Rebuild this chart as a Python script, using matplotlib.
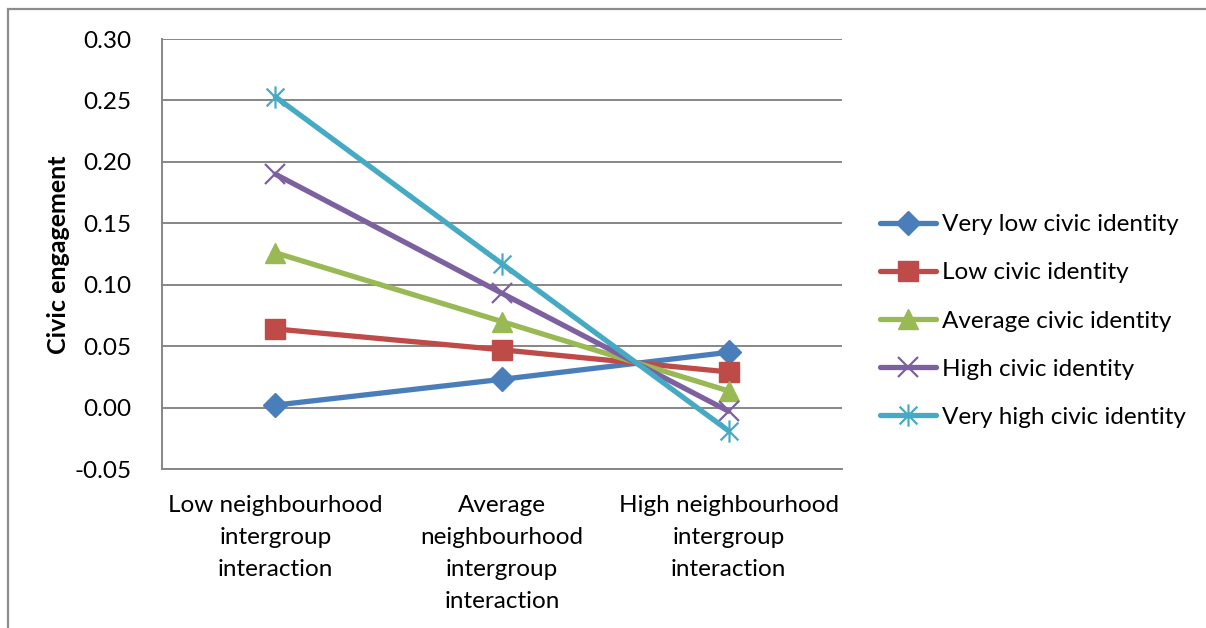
import matplotlib
matplotlib.use("Agg")
import matplotlib.pyplot as plt
from matplotlib.path import Path
from matplotlib.patches import Rectangle

plt.rcParams['font.family'] = ['Lato', 'DejaVu Sans']

categories = [
    "Low neighbourhood\nintergroup\ninteraction",
    "Average\nneighbourhood\nintergroup\ninteraction",
    "High neighbourhood\nintergroup\ninteraction",
]
series_names = [
    "Very low civic identity",
    "Low civic identity",
    "Average civic identity",
    "High civic identity",
    "Very high civic identity",
]
very_low = [0.002, 0.023, 0.045]
low = [0.064, 0.047, 0.029]
average = [0.126, 0.070, 0.0135]
high = [0.190, 0.093, -0.003]
very_high = [0.253, 0.117, -0.019]
y_ticks = [-0.05, 0.00, 0.05, 0.10, 0.15, 0.20, 0.25, 0.30]

# asterisk marker: vertical bar plus a diagonal cross
star = Path(
    [(0, -1), (0, 1), (-0.8, -0.8), (0.8, 0.8), (-0.8, 0.8), (0.8, -0.8)],
    [Path.MOVETO, Path.LINETO, Path.MOVETO, Path.LINETO, Path.MOVETO, Path.LINETO],
)

styles = [
    dict(color="#4A7EBB", marker="D", ms=12, mfc="#4A7EBB", mec="#4A7EBB"),
    dict(color="#BE4B48", marker="s", ms=14, mfc="#BE4B48", mec="#BE4B48"),
    dict(color="#98B954", marker="^", ms=15, mfc="#98B954", mec="#98B954"),
    dict(color="#7D60A0", marker="x", ms=14, mec="#7D60A0", mew=1.6),
    dict(color="#46AAC5", marker=star, ms=16, mec="#46AAC5", mew=1.6),
]

fig = plt.figure(figsize=(12.06, 6.28), dpi=100)
fig.patch.set_facecolor("white")

# outer chart frame
fig.patches.append(Rectangle((8 / 1206, -0.2), 1.2, (628 - 9) / 628 + 0.2,
                             transform=fig.transFigure, fill=False,
                             edgecolor="#8C8C8C", linewidth=1.6))

ax = fig.add_axes([162 / 1206, 1 - 469 / 628, (842 - 162) / 1206, (469 - 39) / 628])

x = list(range(len(categories)))
for name, vals, st in zip(series_names, [very_low, low, average, high, very_high], styles):
    ax.plot(x, vals, label=name, linewidth=3.8, solid_capstyle="round", **st)

ax.set_xlim(-0.5, 2.5)
ax.set_ylim(-0.05, 0.30)
ax.set_yticks(y_ticks)
ax.set_yticklabels([f"{v:.2f}" for v in y_ticks])
ax.set_xticks(x)
ax.set_xticklabels(categories, linespacing=1.64)
ax.tick_params(axis="both", length=0, labelsize=17.5, colors="black")
ax.tick_params(axis="y", pad=22)
ax.tick_params(axis="x", pad=19)
ax.yaxis.grid(True, color="#868686", linewidth=1.4)
ax.set_axisbelow(True)
for s in ["top", "right"]:
    ax.spines[s].set_visible(False)
for s in ["left", "bottom"]:
    ax.spines[s].set_color("#868686")
    ax.spines[s].set_linewidth(1.4)

fig.text(58 / 1206, 1 - 255 / 628, "Civic engagement", rotation=90,
         ha="center", va="center", fontsize=18, fontweight="bold")

ax.legend(loc="center left", bbox_to_anchor=(880 / 1206, 1 - 321 / 628),
          bbox_transform=fig.transFigure, frameon=False, fontsize=17.5,
          handlelength=2.3, handletextpad=0.25, labelspacing=1.12,
          borderpad=0, borderaxespad=0, markerscale=1.0)

fig.savefig("out.png", dpi=100)
